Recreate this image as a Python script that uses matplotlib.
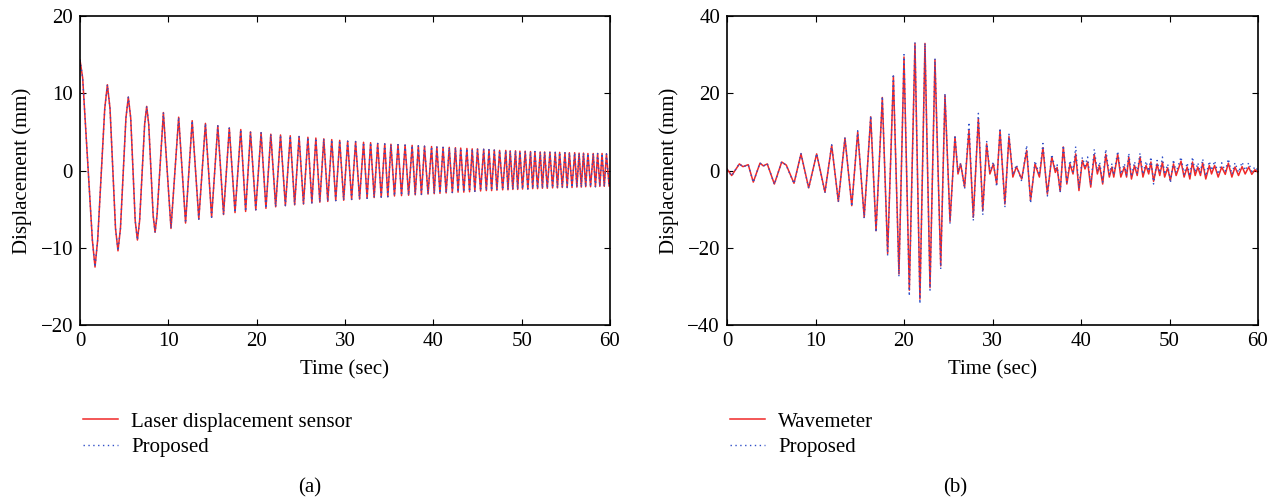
import numpy as np
import matplotlib
matplotlib.use('Agg')
from matplotlib import pyplot as plt

# ---- panel (a): free vibration, extrema ----
peak_t_a = [0.0, 3.1, 5.47, 7.55, 9.44, 11.17, 12.7, 14.2, 15.6, 16.9,
            18.2, 19.3, 20.5, 21.6, 22.7, 23.8, 24.8, 25.8, 26.7, 27.6,
            28.5, 29.4, 30.3, 31.2, 32.1, 32.9, 33.7, 34.5, 35.2, 36.0,
            36.8, 37.6, 38.3, 39.0, 39.8, 40.4, 41.1, 41.8, 42.5, 43.1,
            43.8, 44.4, 45.0, 45.7, 46.3, 46.9, 47.5, 48.2, 48.7, 49.3,
            49.8, 50.4, 51.0, 51.5, 52.1, 52.6, 53.2, 53.8, 54.3, 54.9,
            55.4, 56.0, 56.5, 57.0, 57.5, 58.1, 58.6, 59.1, 59.6]
peak_v_a = [14.3, 11.1, 9.5, 8.3, 7.5, 6.9, 6.45, 6.1, 5.8, 5.5,
            5.3, 5.0, 4.9, 4.7, 4.6, 4.5, 4.4, 4.3, 4.2, 4.1,
            4.0, 3.9, 3.8, 3.75, 3.65, 3.6, 3.5, 3.45, 3.4, 3.35,
            3.3, 3.25, 3.2, 3.15, 3.1, 3.05, 3.0, 3.0, 2.95, 2.9,
            2.85, 2.8, 2.8, 2.75, 2.7, 2.65, 2.6, 2.6, 2.55, 2.55,
            2.5, 2.5, 2.45, 2.45, 2.4, 2.4, 2.4, 2.35, 2.35, 2.3,
            2.3, 2.3, 2.25, 2.25, 2.2, 2.2, 2.2, 2.2, 2.15]
trough_t_a = [1.7, 4.3, 6.5, 8.5, 10.3, 11.95, 13.45, 14.9, 16.25, 17.55,
              18.75, 19.9, 21.05, 22.15, 23.25, 24.3, 25.3, 26.25, 27.15, 28.05,
              28.95, 29.85, 30.75, 31.65, 32.5, 33.3, 34.1, 34.85, 35.6, 36.4,
              37.2, 37.95, 38.65, 39.4, 40.1, 40.75, 41.45, 42.15, 42.8, 43.45,
              44.1, 44.7, 45.35, 46.0, 46.6, 47.2, 47.85, 48.45, 49.0, 49.55,
              50.1, 50.7, 51.25, 51.8, 52.35, 52.9, 53.5, 54.05, 54.6, 55.15,
              55.7, 56.25, 56.75, 57.25, 57.8, 58.35, 58.85, 59.35, 59.9]
trough_v_a = [-12.5, -10.4, -9.0, -8.0, -7.5, -6.8, -6.3, -6.05, -5.7, -5.45,
              -5.3, -5.1, -4.9, -4.7, -4.55, -4.45, -4.35, -4.2, -4.1, -4.0,
              -3.9, -3.85, -3.75, -3.7, -3.6, -3.5, -3.45, -3.4, -3.3, -3.25,
              -3.2, -3.15, -3.1, -3.05, -3.0, -2.95, -2.9, -2.85, -2.8, -2.8,
              -2.75, -2.7, -2.65, -2.6, -2.6, -2.55, -2.5, -2.5, -2.45, -2.45,
              -2.4, -2.4, -2.35, -2.35, -2.3, -2.3, -2.25, -2.25, -2.2, -2.2,
              -2.2, -2.15, -2.15, -2.1, -2.1, -2.1, -2.05, -2.05, -2.0]
# extra points read on the flanks of the first, wide cycles
flank_t_a = [0.3, 1.4, 2.0, 2.8, 3.4, 4.02, 4.58, 5.2, 5.74, 6.25,
             6.75, 7.32, 7.78, 8.28, 8.72]
flank_v_a = [12.0, -9.0, -9.0, 8.0, 8.0, -7.5, -7.5, 6.8, 6.8, -6.5,
             -6.5, 6.0, 6.0, -5.8, -5.8]

# ---- panel (b): earthquake-like response, extrema ----
t_b = [0.0, 0.53, 1.4, 1.8, 2.4, 2.97, 3.73, 4.1, 4.55, 5.35,
       6.18, 6.7, 7.57, 8.36, 9.23, 10.13, 11.07, 11.83, 12.58, 13.33,
       14.1, 14.77, 15.5, 16.24, 16.84, 17.55, 18.15, 18.8, 19.43, 20.0,
       20.6, 21.24, 21.8, 22.37, 22.94, 23.5, 24.15, 24.63, 25.2, 25.76,
       26.1, 26.4, 26.85, 27.34, 27.83, 28.4, 28.9, 29.34, 29.7, 30.1,
       30.47, 30.85, 31.4, 31.86, 32.3, 32.7, 33.3, 33.86, 34.3, 34.8,
       35.3, 35.7, 36.2, 36.7, 37.1, 37.3, 37.65, 38.0, 38.4, 38.75,
       39.1, 39.4, 39.77, 40.15, 40.45, 40.75, 41.1, 41.5, 41.85, 42.1,
       42.45, 42.8, 43.2, 43.5, 43.7, 44.15, 44.5, 44.9, 45.15, 45.4,
       45.7, 46.05, 46.35, 46.67, 47.0, 47.35, 47.65, 47.9, 48.2, 48.6,
       48.9, 49.2, 49.45, 49.8, 50.1, 50.45, 50.75, 51.3, 51.65, 52.0,
       52.3, 52.6, 52.9, 53.2, 53.5, 53.75, 54.1, 54.5, 54.75, 55.1,
       55.5, 55.9, 56.3, 56.65, 57.05, 57.4, 57.8, 58.2, 58.55, 58.95,
       59.3, 59.66, 60.0]
wavemeter_b = [0.4, -1.3, 1.7, 1.0, 1.5, -3.0, 1.9, 1.2, 1.7, -3.5,
               2.2, 1.4, -3.3, 4.3, -4.5, 4.3, -5.6, 6.5, -8.0, 8.4,
               -9.1, 10.0, -12.1, 13.9, -15.6, 18.9, -21.5, 24.4, -26.8, 29.4,
               -31.0, 32.9, -33.3, 32.9, -30.3, 28.7, -24.7, 19.5, -13.2, 8.7,
               -0.9, 1.7, -4.3, 10.4, -12.1, 13.4, -10.4, 6.9, -0.9, 1.7,
               -3.5, 10.4, -8.7, 8.8, -1.7, 1.0, -2.2, 5.2, -7.8, 1.7,
               -1.7, 5.9, -6.1, 3.5, -0.5, 0.8, -5.4, 6.1, -3.5, 1.7,
               -0.9, 4.3, -5.2, 2.6, 0.4, 2.2, -4.3, 4.1, -0.9, 1.3,
               -3.5, 4.2, -1.7, 0.9, -1.7, 4.2, -1.7, 0.9, -1.7, 3.5,
               -2.2, 1.3, -1.3, 3.5, -1.7, 1.3, -0.9, 2.2, -2.8, 1.7,
               -1.3, 2.2, -1.7, 0.7, -2.6, 1.7, -1.3, 2.4, -1.7, 0.9,
               -2.2, 2.2, -1.3, 0.9, -1.3, 2.0, -2.2, 1.3, -0.9, 1.3,
               -1.7, 0.9, -1.0, 1.9, -1.7, 0.9, -1.3, 1.0, -0.9, 0.9,
               -1.0, 0.2, -0.5]
proposed_b = [0.3, -1.4, 1.8, 0.9, 1.5, -3.1, 2.0, 1.1, 1.8, -3.6,
              2.3, 1.3, -3.4, 4.4, -4.6, 4.4, -5.8, 6.7, -8.2, 8.6,
              -9.3, 10.3, -12.4, 14.2, -16.0, 19.2, -22.0, 25.0, -27.5, 30.0,
              -32.5, 33.2, -34.5, 33.0, -31.0, 29.0, -25.5, 20.0, -13.8, 9.2,
              -0.5, 2.0, -4.8, 12.5, -13.0, 14.8, -11.5, 7.5, -0.3, 2.2,
              -4.2, 11.0, -9.5, 9.4, -1.2, 1.5, -2.8, 6.5, -8.5, 2.5,
              -1.2, 7.0, -6.6, 4.2, 0.2, 1.5, -5.8, 6.5, -3.0, 2.6,
              -0.3, 6.2, -4.6, 3.4, 1.2, 3.5, -3.8, 5.5, -0.2, 2.2,
              -3.0, 5.5, -1.0, 1.8, -1.2, 5.0, -1.0, 1.8, -1.2, 4.5,
              -1.6, 2.3, -0.6, 4.5, -1.0, 2.4, -0.2, 3.5, -3.5, 2.6,
              -0.6, 3.5, -1.0, 1.7, -3.2, 2.8, -0.5, 3.5, -1.0, 2.0,
              -1.5, 3.5, -0.5, 2.0, -0.6, 3.0, -1.5, 2.4, 0.0, 2.5,
              -1.0, 2.0, -0.2, 3.0, -1.0, 2.0, -0.5, 2.2, 0.0, 2.0,
              -0.3, 1.0, 0.0]

plt.rcParams['font.family'] = ['Liberation Serif', 'DejaVu Serif']
plt.rcParams['font.size'] = 15

RED = '#f02828'
BLUE = '#2f4fc8'

# merge peaks, troughs and flank points of (a) into one time-ordered series
t_a = np.array(peak_t_a + trough_t_a + flank_t_a)
v_a = np.array(peak_v_a + trough_v_a + flank_v_a)
order = np.argsort(t_a)
t_a, v_a = t_a[order], v_a[order]

W, H = 1274, 500
fig = plt.figure(figsize=(W / 100, H / 100), dpi=100)
ax_a = fig.add_axes([80 / W, 1 - 325 / H, 530 / W, 309 / H])
ax_b = fig.add_axes([727 / W, 1 - 325 / H, 531 / W, 309 / H])


def style(ax, ylim, yticks):
    ax.set_xlim(0, 60)
    ax.set_ylim(*ylim)
    ax.set_xticks(range(0, 61, 10))
    ax.set_yticks(yticks)
    ax.tick_params(direction='in', top=True, right=True, length=4, width=0.8, pad=5)
    for s in ax.spines.values():
        s.set_linewidth(1.2)
    ax.set_xlabel('Time (sec)', labelpad=7)
    ax.set_ylabel('Displacement (mm)', labelpad=6)


ax_a.plot(t_a, v_a, color=RED, lw=1.1, label='Laser displacement sensor')
ax_a.plot(t_a, v_a, color=BLUE, lw=1.0, ls=(0, (1, 2.5)), label='Proposed')
style(ax_a, (-20, 20), [-20, -10, 0, 10, 20])

ax_b.plot(t_b, wavemeter_b, color=RED, lw=1.1, label='Wavemeter')
ax_b.plot(t_b, proposed_b, color=BLUE, lw=1.0, ls=(0, (1, 2.5)), label='Proposed')
style(ax_b, (-40, 40), [-40, -20, 0, 20, 40])

for ax, x0 in ((ax_a, 83), (ax_b, 730)):
    ax.legend(loc='upper left', bbox_to_anchor=(x0 / W, 1 - 412 / H),
              bbox_transform=fig.transFigure, frameon=False, borderpad=0,
              borderaxespad=0, handlelength=1.7, handletextpad=0.6,
              labelspacing=0.28)

fig.text(310 / W, 1 - 488 / H, '(a)', ha='center', va='center')
fig.text(955 / W, 1 - 488 / H, '(b)', ha='center', va='center')

fig.savefig('out.png', dpi=100)
